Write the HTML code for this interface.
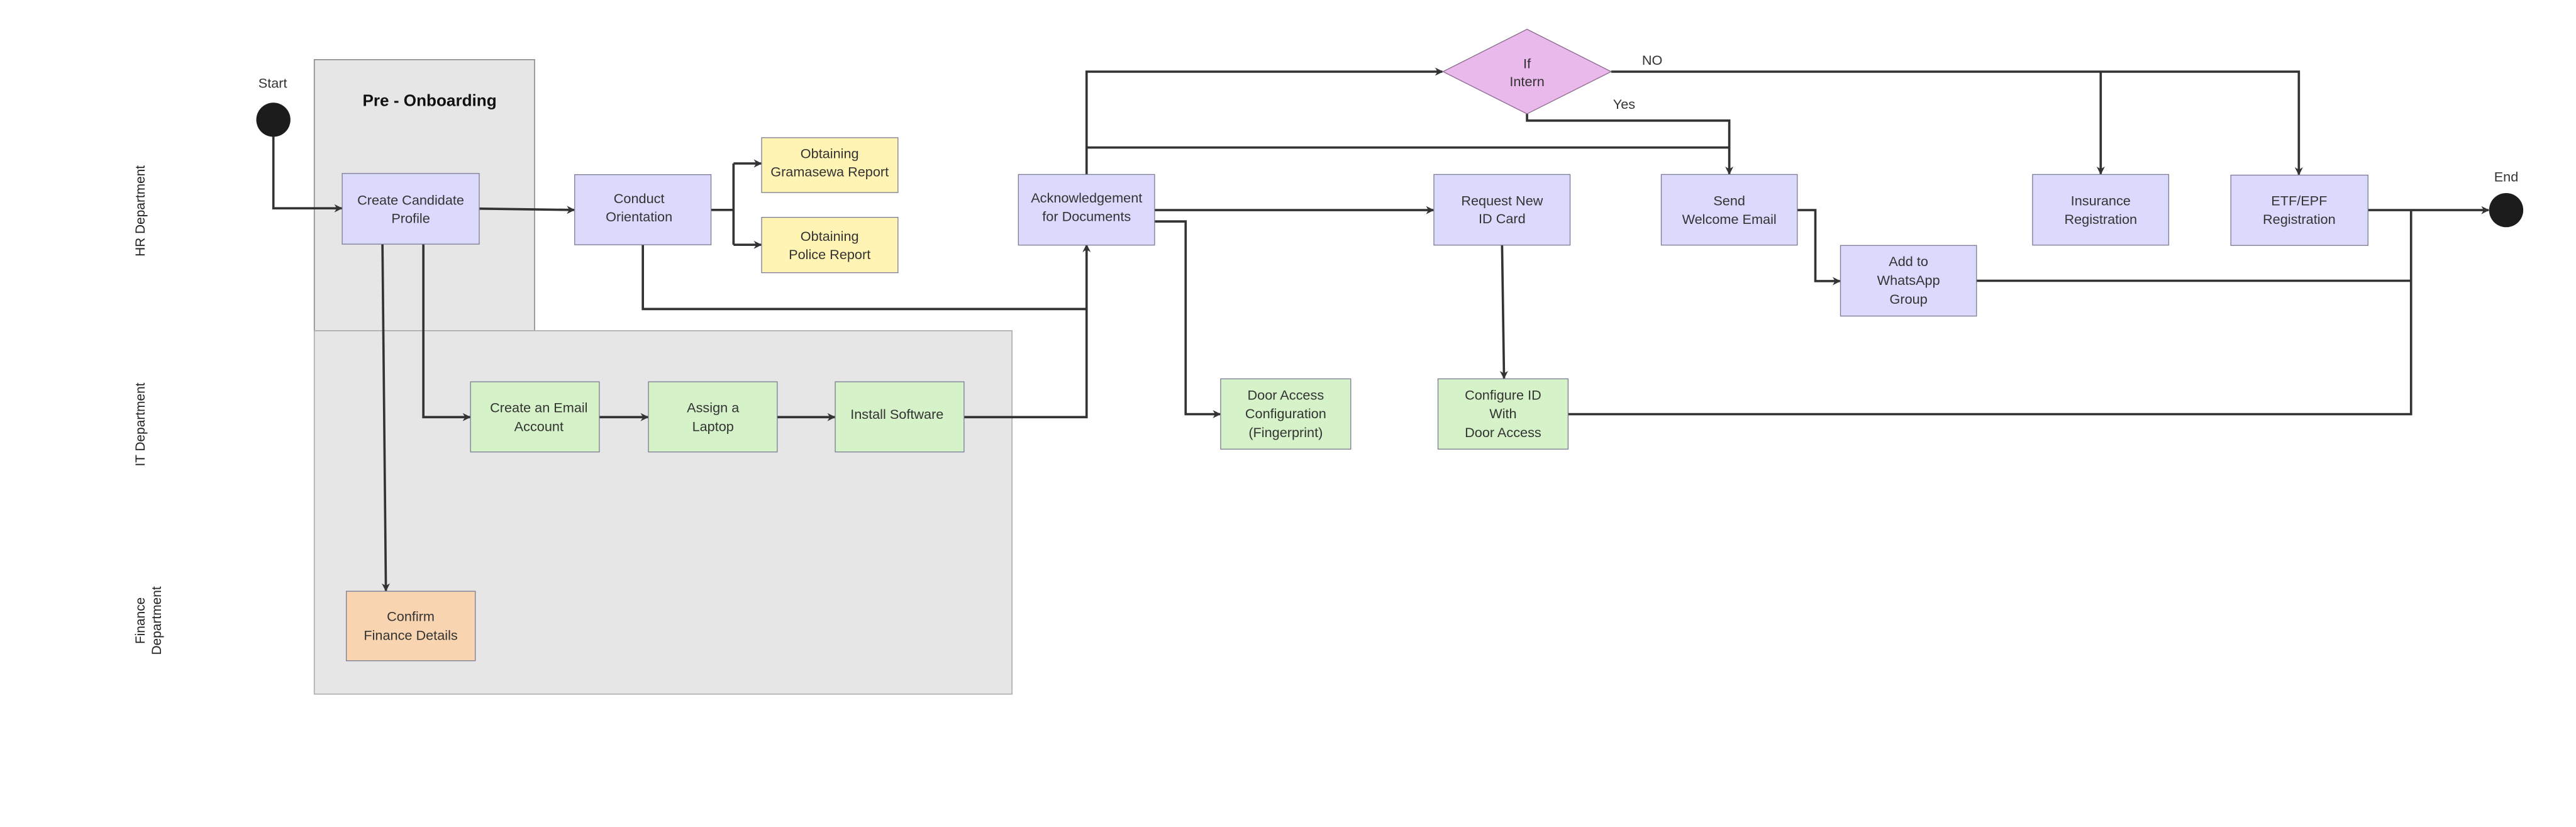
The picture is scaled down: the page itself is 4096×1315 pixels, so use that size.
<!DOCTYPE html>
<html><head><meta charset="utf-8"><style>
html,body{margin:0;padding:0;background:#fff;}
svg{display:block;}
text{font-family:"Liberation Sans",sans-serif;fill:#333;font-size:8.3px;text-anchor:middle;}
.b{stroke:#7b7b95;stroke-width:0.5;}
.l{fill:none;stroke:#333;stroke-width:1.4;}
</style></head><body>
<svg width="4096" height="1315" viewBox="0 0 1568 503.4" preserveAspectRatio="none" xmlns="http://www.w3.org/2000/svg">
<defs>
<marker id="a" viewBox="0 0 10 10" refX="9" refY="5" markerWidth="5" markerHeight="5" orient="auto" markerUnits="userSpaceOnUse"><path d="M0,0 L10,5 L0,10 L3,5 z" fill="#333"/></marker>
</defs>
<rect x="0" y="0" width="1568" height="503.4" fill="#fff"/>
<!-- swimlane groups -->
<rect x="191.3" y="36.3" width="134.1" height="165" fill="#e6e6e6" stroke="#888" stroke-width="0.6"/>
<rect x="191.3" y="201.3" width="424.7" height="221.2" fill="#e6e6e6" stroke="#aaa" stroke-width="0.6"/>
<text x="261.5" y="64.5" style="font-size:10px;font-weight:bold;fill:#111">Pre - Onboarding</text>
<!-- lane labels -->
<text transform="translate(88,128.4) rotate(-90)" style="font-size:8px;fill:#222">HR Department</text>
<text transform="translate(88,258.4) rotate(-90)" style="font-size:8px;fill:#222">IT Department</text>
<text transform="translate(88,377.8) rotate(-90)" style="font-size:8px;fill:#222">Finance</text>
<text transform="translate(98,377.8) rotate(-90)" style="font-size:8px;fill:#222">Department</text>
<!-- start / end -->
<text x="166" y="53.5">Start</text>
<circle cx="166.4" cy="72.9" r="10.4" fill="#1c1c1c"/>
<text x="1525.5" y="110.5">End</text>
<circle cx="1525.5" cy="127.9" r="10.4" fill="#1c1c1c"/>
<!-- connectors -->
<path class="l" d="M166.4,83 V126.8 H208" marker-end="url(#a)"/>
<path class="l" d="M291.7,127 L349.5,127.8" marker-end="url(#a)"/>
<path class="l" d="M432.8,127.8 H446.5 M446.5,99.5 V149" />
<path class="l" d="M446.5,99.5 H463.3" marker-end="url(#a)"/>
<path class="l" d="M446.5,149 H463.3" marker-end="url(#a)"/>
<path class="l" d="M232.8,148.6 L234.9,359.6" marker-end="url(#a)"/>
<path class="l" d="M257.7,148.6 V253.9 H286.1" marker-end="url(#a)"/>
<path class="l" d="M364.8,253.9 H394.4" marker-end="url(#a)"/>
<path class="l" d="M473.1,253.9 H508.1" marker-end="url(#a)"/>
<path class="l" d="M391.3,149 V188.1 H661.4"/>
<path class="l" d="M586.8,253.9 H661.4 V149" marker-end="url(#a)"/>
<path class="l" d="M661.4,106.2 V43.6 H878" marker-end="url(#a)"/>
<path class="l" d="M661.4,89.8 H1052.6"/>
<path class="l" d="M929.5,69.3 V73.4 H1052.6 V105.9" marker-end="url(#a)"/>
<path class="l" d="M980.7,43.6 H1399.3 V106.3" marker-end="url(#a)"/>
<path class="l" d="M1278.7,43.6 V105.9" marker-end="url(#a)"/>
<path class="l" d="M702.8,127.9 H872.5" marker-end="url(#a)"/>
<path class="l" d="M702.8,134.8 H721.7 V252.1 H742.7" marker-end="url(#a)"/>
<path class="l" d="M914.3,149.2 L915.5,230.3" marker-end="url(#a)"/>
<path class="l" d="M1094,127.9 H1105 V171.1 H1120" marker-end="url(#a)"/>
<path class="l" d="M1203.1,170.9 H1467.6"/>
<path class="l" d="M954.5,252.1 H1467.6 V128.5"/>
<path class="l" d="M1441.4,127.9 H1514.8" marker-end="url(#a)"/>
<text x="1005.7" y="39.5">NO</text>
<text x="988.6" y="66.3">Yes</text>
<!-- diamond -->
<polygon points="929.5,17.8 980.7,43.6 929.5,69.3 878.3,43.6" fill="#e9b9ec" stroke="#8a6a8d" stroke-width="0.5"/>
<text x="929.5" y="41.5">If</text>
<text x="929.5" y="52.5">Intern</text>
<!-- purple boxes -->
<g fill="#dcdafc">
<rect class="b" x="208.3" y="105.6" width="83.4" height="43"/>
<rect class="b" x="349.8" y="106.3" width="83" height="42.7"/>
<rect class="b" x="619.9" y="106.2" width="82.9" height="43"/>
<rect class="b" x="872.8" y="106.2" width="82.9" height="43"/>
<rect class="b" x="1011.2" y="106.2" width="82.8" height="43"/>
<rect class="b" x="1120.3" y="149.4" width="82.8" height="43"/>
<rect class="b" x="1237.2" y="106.2" width="82.9" height="43"/>
<rect class="b" x="1357.9" y="106.6" width="83.5" height="42.8"/>
</g>
<g fill="#fff4b3">
<rect class="b" x="463.6" y="83.8" width="83" height="33.4"/>
<rect class="b" x="463.6" y="132.3" width="83" height="33.7"/>
</g>
<g fill="#d5f2c8">
<rect class="b" x="286.4" y="232.4" width="78.4" height="42.7"/>
<rect class="b" x="394.7" y="232.4" width="78.4" height="42.7"/>
<rect class="b" x="508.4" y="232.4" width="78.4" height="42.7"/>
<rect class="b" x="743" y="230.6" width="79.2" height="42.8"/>
<rect class="b" x="875.3" y="230.6" width="79.2" height="42.8"/>
</g>
<rect class="b" x="210.8" y="359.9" width="78.5" height="42.3" fill="#f8d5b0"/>
<!-- box texts -->
<text x="250" y="124.7">Create Candidate</text><text x="250" y="135.7">Profile</text>
<text x="389" y="123.7">Conduct</text><text x="389" y="134.7">Orientation</text>
<text x="505" y="96.3">Obtaining</text><text x="505" y="107.3">Gramasewa Report</text>
<text x="505" y="146.7">Obtaining</text><text x="505" y="157.7">Police Report</text>
<text x="328" y="251">Create an Email</text><text x="328" y="262.5">Account</text>
<text x="434" y="251">Assign a</text><text x="434" y="262.5">Laptop</text>
<text x="546" y="255">Install Software</text>
<text x="250" y="378">Confirm</text><text x="250" y="389.5">Finance Details</text>
<text x="661.4" y="123.2">Acknowledgement</text><text x="661.4" y="134.5">for Documents</text>
<text x="914.3" y="125">Request New</text><text x="914.3" y="136">ID Card</text>
<text x="1052.6" y="125">Send</text><text x="1052.6" y="136.3">Welcome Email</text>
<text x="1161.7" y="162">Add to</text><text x="1161.7" y="173.5">WhatsApp</text><text x="1161.7" y="185">Group</text>
<text x="1278.7" y="125">Insurance</text><text x="1278.7" y="136.3">Registration</text>
<text x="1399.5" y="125">ETF/EPF</text><text x="1399.5" y="136.3">Registration</text>
<text x="782.6" y="243.2">Door Access</text><text x="782.6" y="254.5">Configuration</text><text x="782.6" y="266">(Fingerprint)</text>
<text x="914.9" y="243.2">Configure ID</text><text x="914.9" y="254.5">With</text><text x="914.9" y="266">Door Access</text>
</svg>
</body></html>
